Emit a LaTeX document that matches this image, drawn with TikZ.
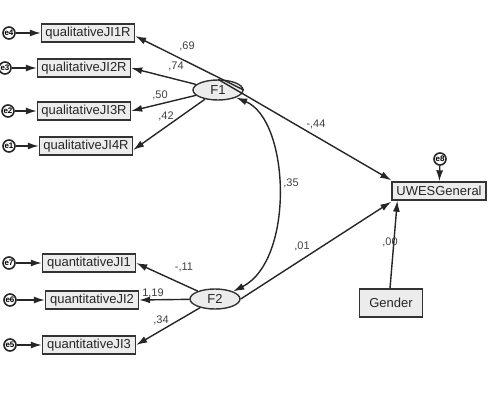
\documentclass[tikz,border=0pt]{standalone}
\usepackage{fontspec}
\setmainfont{Liberation Sans}
\usetikzlibrary{arrows.meta,shapes.geometric}

\begin{document}
\begin{tikzpicture}[x=1pt,y=-1pt,
	obs/.style={draw=black!80, line width=1.4pt, fill=gray!15, text=black!85, font=\fontsize{13}{13}\selectfont, minimum width=93pt, minimum height=18pt, inner xsep=2pt, inner ysep=0pt},
	lat/.style={draw=black!80, line width=1.4pt, ellipse, fill=gray!15, text=black!85, minimum width=50pt, minimum height=20pt, inner sep=0pt, font=\fontsize{13}{13}\selectfont},
	err/.style={draw=black!85, line width=1.6pt, circle, fill=white, minimum size=12pt, inner sep=0pt, font=\bfseries\fontsize{8}{8}\selectfont},
	reg/.style={-{Latex[length=11pt,width=7pt]}, line width=1.4pt, black!85},
	coef/.style={font=\fontsize{11}{11}\selectfont, text=black!75}]
	\useasboundingbox (0,0) rectangle (498,409);

	%Latent factors
	\node[lat] (F1) at (218,90) {F1};
	\node[lat] (F2) at (215,299) {F2};

	%Qualitative indicators
	\node[obs] (q1) at (88,33) {qualitativeJI1R};
	\node[obs] (q2) at (84,68) {qualitativeJI2R};
	\node[obs] (q3) at (84,111) {qualitativeJI3R};
	\node[obs] (q4) at (86,146) {qualitativeJI4R};
	\node[err] (e4) at (9,33) {e4};
	\node[err] (e3) at (5,68) {e3};
	\node[err] (e2) at (8,111) {e2};
	\node[err] (e1) at (9,146) {e1};

	%Quantitative indicators
	\node[obs] (n1) at (89,263) {quantitativeJI1};
	\node[obs] (n2) at (92,300) {quantitativeJI2};
	\node[obs] (n3) at (89,345) {quantitativeJI3};
	\node[err] (e7) at (9,263) {e7};
	\node[err] (e6) at (10,300) {e6};
	\node[err] (e5) at (10,345) {e5};

	%Outcome and covariate
	\node[obs, minimum width=94pt] (UW) at (439,191) {UWESGeneral};
	\node[err] (e8) at (440,159) {e8};
	\node[obs, minimum width=63pt, minimum height=28pt] (G) at (391,303) {Gender};

	%Error terms
	\foreach \e/\b in {e4/q1,e3/q2,e2/q3,e1/q4,e7/n1,e6/n2,e5/n3}
		\draw[reg] (\e) -- (\b);
	\draw[reg] (e8) -- (UW);

	%Loadings
	\draw[reg] (F1.east) -- ([yshift=-3pt]q1.east);
	\draw[reg] (F1) -- (q2.east);
	\draw[reg] (F1) -- (q3.east);
	\draw[reg] (F1) -- ([yshift=-4pt]q4.east);
	\draw[reg] (F2) -- (n1.east);
	\draw[reg] (F2) -- (n2.east);
	\draw[reg] (F2) -- (n3.east);

	%Structural paths
	\draw[reg] (F1.north) -- ([yshift=1pt]UW.north west);
	\draw[reg] (F2.east) -- ([yshift=-1pt]UW.south west);
	\draw[reg] ([xshift=-1pt]G.north) -- ([xshift=6pt]UW.south west);

	%Covariance
	\draw[{Latex[length=11pt,width=7pt]}-{Latex[length=11pt,width=7pt]}, line width=1.4pt, black!85]
		(F1.south east) .. controls (290,120) and (295,260) .. (F2.north east);

	%Estimates
	\node[coef] (c69) at (187,46) {,69};
	\node[coef] (c74) at (176,66) {,74};
	\node[coef] (c50) at (160,95) {,50};
	\node[coef] (c42) at (166,116) {,42};
	\node[coef] (c44) at (316,124) {-,44};
	\node[coef] (c35) at (291,183) {,35};
	\node[coef] (c01) at (302,246) {,01};
	\node[coef] (c00) at (390,242) {,00};
	\node[coef] (c11) at (184,267) {-,11};
	\node[coef] (c19) at (153,293) {1,19};
	\node[coef] (c34) at (161,320) {,34};
\end{tikzpicture}
\end{document}
